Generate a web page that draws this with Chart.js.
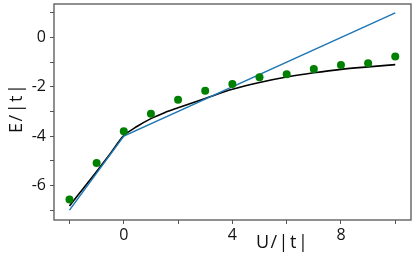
<!DOCTYPE html>
<html>
<head>
<meta charset="utf-8">
<script src="https://cdn.jsdelivr.net/npm/chart.js@4/dist/chart.umd.min.js"></script>
<style>
  html, body { margin: 0; padding: 0; background: #fff; }
</style>
</head>
<body>
<canvas id="chart" width="415" height="256"></canvas>
<script>
// green dots
const dotU = [-2, -1, 0, 1, 2, 3, 4, 5, 6, 7, 8, 9, 10];
const dotE = [-6.57, -5.09, -3.8, -3.09, -2.52, -2.16, -1.88, -1.61, -1.49, -1.28, -1.11, -1.04, -0.77];

// black curve
const curveU = [-2, -1.5, -1, -0.5, 0, 0.5, 1, 1.5, 2, 3, 4, 5, 6, 7, 8, 9, 10];
const curveE = [-6.83, -6.13, -5.43, -4.71, -3.98, -3.6, -3.29, -3.05, -2.85, -2.47, -2.1, -1.82, -1.6, -1.43, -1.29, -1.19, -1.1];

// blue straight lines
const lineU = [-2, 0, 10];
const lineE = [-7, -4, 1];

const xLabels = [0, 4, 8];
const yLabels = [0, -2, -4, -6];

const pts = (xs, ys) => xs.map((x, i) => ({ x: x, y: ys[i] }));
const frameColor = '#555';
const font = { family: 'Open Sans', size: 16 };

// frame + axis titles
const extras = {
    id: 'extras',
    afterDraw(chart) {
        const ctx = chart.ctx;
        const a = chart.chartArea;
        ctx.save();
        ctx.strokeStyle = frameColor;
        ctx.lineWidth = 1.3;
        ctx.strokeRect(a.left, a.top, a.right - a.left, a.bottom - a.top);

        ctx.fillStyle = '#111';
        ctx.font = '18px "Open Sans"';
        ctx.letterSpacing = '1.5px';
        ctx.textAlign = 'center';
        ctx.textBaseline = 'middle';
        ctx.fillText('U/|t|', chart.scales.x.getPixelForValue(5.85), a.bottom + 23);

        ctx.translate(17, chart.scales.y.getPixelForValue(-2.85));
        ctx.rotate(-Math.PI / 2);
        ctx.fillText('E/|t|', 0, 0);
        ctx.restore();
    }
};

new Chart(document.getElementById('chart'), {
    type: 'scatter',
    data: {
        datasets: [
            {
                data: pts(dotU, dotE),
                showLine: false,
                pointRadius: 4,
                pointBackgroundColor: '#008000',
                pointBorderWidth: 0,
                order: 0
            },
            {
                data: pts(lineU, lineE),
                showLine: true,
                borderColor: '#1f77b4',
                borderWidth: 1.5,
                pointRadius: 0,
                order: 1
            },
            {
                data: pts(curveU, curveE),
                showLine: true,
                borderColor: '#000',
                borderWidth: 1.6,
                pointRadius: 0,
                cubicInterpolationMode: 'monotone',
                order: 2
            }
        ]
    },
    options: {
        responsive: false,
        animation: false,
        layout: { padding: { top: 1, right: 2, left: 0, bottom: 0 } },
        plugins: { legend: { display: false }, tooltip: { enabled: false } },
        scales: {
            x: {
                min: -2.57,
                max: 10.58,
                afterFit: (s) => { s.height = 36; s.paddingLeft = 0; s.paddingRight = 0; },
                border: { display: false },
                grid: { drawOnChartArea: false, tickLength: 4, color: frameColor, lineWidth: 1 },
                ticks: {
                    stepSize: 2,
                    includeBounds: false,
                    maxRotation: 0,
                    autoSkip: false,
                    padding: 2,
                    color: '#111',
                    font: font,
                    callback: (v) => xLabels.includes(v) ? String(v) : ''
                }
            },
            y: {
                min: -7.4,
                max: 1.36,
                afterFit: (s) => { s.width = 54; s.paddingTop = 0; s.paddingBottom = 0; },
                border: { display: false },
                grid: { drawOnChartArea: false, tickLength: 4, color: frameColor, lineWidth: 1 },
                ticks: {
                    stepSize: 1,
                    includeBounds: false,
                    autoSkip: false,
                    padding: 4,
                    color: '#111',
                    font: font,
                    callback: (v) => yLabels.includes(v) ? String(v) : ''
                }
            }
        }
    },
    plugins: [extras]
});
</script>
</body>
</html>
